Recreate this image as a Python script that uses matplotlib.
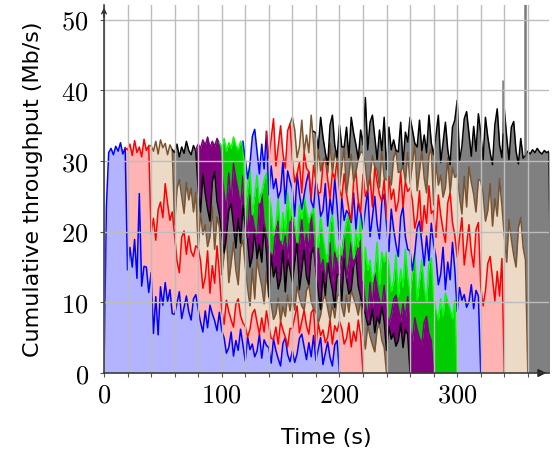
import numpy as np
import matplotlib
matplotlib.use('Agg')
import matplotlib.pyplot as plt
from matplotlib.ticker import FuncFormatter, MultipleLocator

plt.rcParams['mathtext.fontset'] = 'cm'
plt.rcParams['font.family'] = ['DejaVu Sans']

# each flow runs 200 s; values are the stacked (cumulative) throughput in Mb/s,
# sampled every 2 s from start-2 to start+200 (first = join point, last = leave point)
flow_start = [0, 20, 40, 60, 80, 100, 120, 140, 160, 180]

flow1 = [0.0,
         0.0, 23.5, 31.2, 31.8, 30.9, 32.1, 31.4, 32.6, 31.0, 31.9,
         14.6, 17.8, 15.0, 18.9, 13.4, 25.4, 12.3, 15.1, 15.0, 11.4,
         14.2, 5.6, 10.8, 5.4, 12.2, 9.6, 12.8, 10.1, 11.8, 8.4,
         8.3, 9.9, 11.5, 7.7, 9.3, 10.9, 8.7, 7.5, 10.5, 11.1,
         9.0, 7.2, 5.8, 8.8, 6.4, 9.6, 8.4, 7.4, 6.0, 8.6,
         6.0, 5.0, 2.8, 3.6, 5.8, 2.4, 4.6, 3.2, 6.2, 4.0,
         1.7, 5.1, 3.3, 4.1, 2.3, 3.1, 5.5, 2.1, 4.7, 3.9,
         3.6, 1.4, 4.8, 3.2, 2.0, 1.0, 4.2, 5.0, 2.6, 1.6,
         3.1, 1.5, 2.7, 4.9, 5.5, 3.7, 1.9, 4.3, 2.3, 5.3,
         1.8, 3.4, 5.0, 1.2, 2.8, 4.4, 2.2, 1.0, 4.0, 4.6,
         0.0]

flow2 = [31.9,
         31.6, 32.4, 30.8, 32.9, 31.2, 32.0, 30.6, 33.1, 31.5, 32.2,
         19.8, 21.9, 18.8, 23.1, 24.2, 22.0, 26.8, 24.0, 21.6, 22.8,
         19.5, 15.9, 14.2, 19.2, 20.1, 16.8, 19.4, 17.2, 16.5, 18.0,
         17.7, 15.9, 12.0, 13.5, 17.3, 11.3, 15.2, 12.7, 18.0, 14.1,
         9.1, 6.9, 10.3, 8.7, 7.5, 6.5, 9.7, 10.5, 8.1, 7.1,
         6.6, 5.0, 6.2, 8.4, 9.0, 7.2, 5.4, 7.8, 5.8, 8.8,
         6.7, 4.9, 3.5, 6.5, 4.1, 7.3, 6.1, 5.1, 3.7, 6.3,
         6.3, 7.9, 9.5, 5.7, 7.3, 8.9, 6.7, 5.5, 8.5, 9.1,
         3.7, 7.1, 5.3, 6.1, 4.3, 5.1, 7.5, 4.1, 6.7, 5.9,
         7.3, 6.3, 4.1, 4.9, 7.1, 3.7, 5.9, 4.5, 7.5, 5.3,
         0.0]

flow3 = [31.5,
         32.2, 31.4, 32.8, 31.0, 33.0, 31.9, 32.5, 30.9, 32.3, 31.6,
         21.0, 26.1, 27.4, 25.0, 22.6, 27.0, 24.5, 26.2, 22.8, 25.6,
         16.8, 22.8, 19.6, 21.0, 17.9, 19.3, 23.5, 17.5, 22.1, 20.7,
         13.9, 16.7, 19.5, 12.8, 15.6, 18.5, 14.6, 12.5, 17.8, 18.8,
         15.1, 12.0, 9.5, 14.8, 10.5, 16.2, 14.0, 12.3, 9.8, 14.4,
         10.8, 9.8, 7.6, 8.4, 10.6, 7.2, 9.4, 8.0, 11.0, 8.8,
         11.1, 8.9, 12.3, 10.7, 9.5, 8.5, 11.7, 12.5, 10.1, 9.1,
         8.6, 7.0, 8.2, 10.4, 11.0, 9.2, 7.4, 9.8, 7.8, 10.8,
         11.2, 9.4, 8.0, 11.0, 8.6, 11.8, 10.6, 9.6, 8.2, 10.8,
         5.6, 3.4, 6.8, 5.2, 4.0, 3.0, 6.2, 7.0, 4.6, 3.6,
         0.0]

flow4 = [31.6,
         31.2, 32.4, 30.6, 32.0, 31.1, 32.8, 31.5, 30.9, 32.2, 31.4,
         26.0, 22.2, 28.2, 25.4, 23.2, 21.5, 27.1, 28.5, 24.3, 22.5,
         19.8, 17.0, 19.1, 23.0, 24.0, 20.9, 17.7, 21.9, 18.4, 23.7,
         20.7, 18.9, 15.0, 16.5, 20.3, 14.3, 18.2, 15.7, 21.0, 17.1,
         10.8, 16.8, 13.6, 15.0, 11.9, 13.3, 17.5, 11.5, 16.1, 14.7,
         12.9, 15.7, 18.5, 11.8, 14.6, 17.5, 13.6, 11.5, 16.8, 17.8,
         14.6, 11.5, 9.0, 14.3, 10.0, 15.7, 13.5, 11.8, 9.3, 13.9,
         14.0, 10.2, 16.2, 13.4, 11.2, 9.5, 15.1, 16.5, 12.3, 10.5,
         9.3, 8.3, 6.1, 6.9, 9.1, 5.7, 7.9, 6.5, 9.5, 7.3,
         3.2, 6.6, 4.8, 5.6, 3.8, 4.6, 7.0, 3.6, 6.2, 5.4,
         0.0]

flow5 = [31.6,
         32.4, 31.8, 33.0, 32.2, 33.4, 31.9, 32.8, 32.1, 33.2, 32.5,
         28.6, 25.5, 23.0, 28.3, 24.0, 29.7, 27.5, 25.8, 23.3, 27.9,
         23.0, 19.2, 25.2, 22.4, 20.2, 18.5, 24.1, 25.5, 21.3, 19.5,
         17.3, 14.5, 16.6, 20.5, 21.5, 18.4, 15.2, 19.4, 15.9, 21.2,
         22.2, 20.4, 16.5, 18.0, 21.8, 15.8, 19.7, 17.2, 22.5, 18.6,
         11.8, 17.8, 14.6, 16.0, 12.9, 14.3, 18.5, 12.5, 17.1, 15.7,
         13.9, 16.7, 19.5, 12.8, 15.6, 18.5, 14.6, 12.5, 17.8, 18.8,
         13.1, 10.0, 7.5, 12.8, 8.5, 14.2, 12.0, 10.3, 7.8, 12.4,
         8.6, 7.0, 8.2, 10.4, 11.0, 9.2, 7.4, 9.8, 7.8, 10.8,
         6.6, 4.4, 7.8, 6.2, 5.0, 4.0, 7.2, 8.0, 5.6, 4.6,
         0.0]

flow6 = [32.6,
         32.0, 33.2, 31.4, 32.6, 31.8, 33.4, 32.2, 31.6, 32.8, 32.0,
         23.4, 26.2, 29.0, 22.3, 25.1, 28.0, 24.1, 22.0, 27.3, 28.3,
         25.2, 23.4, 19.5, 21.0, 24.8, 18.8, 22.7, 20.2, 25.5, 21.6,
         24.1, 21.0, 18.5, 23.8, 19.5, 25.2, 23.0, 21.3, 18.8, 23.4,
         20.0, 16.2, 22.2, 19.4, 17.2, 15.5, 21.1, 22.5, 18.3, 16.5,
         18.3, 15.5, 17.6, 21.5, 22.5, 19.4, 16.2, 20.4, 16.9, 22.2,
         11.8, 17.8, 14.6, 16.0, 12.9, 14.3, 18.5, 12.5, 17.1, 15.7,
         17.2, 15.4, 11.5, 13.0, 16.8, 10.8, 14.7, 12.2, 17.5, 13.6,
         11.4, 14.2, 17.0, 10.3, 13.1, 16.0, 12.1, 10.0, 15.3, 16.3,
         10.7, 8.9, 7.5, 10.5, 8.1, 11.3, 10.1, 9.1, 7.7, 10.3,
         0.0]

flow7 = [32.8,
         30.3, 27.5, 29.6, 33.5, 34.5, 31.4, 28.2, 32.4, 28.9, 34.2,
         23.3, 29.3, 26.1, 27.5, 24.4, 25.8, 30.0, 24.0, 28.6, 27.2,
         26.0, 22.2, 28.2, 25.4, 23.2, 21.5, 27.1, 28.5, 24.3, 22.5,
         27.2, 25.4, 21.5, 23.0, 26.8, 20.8, 24.7, 22.2, 27.5, 23.6,
         18.8, 24.8, 21.6, 23.0, 19.9, 21.3, 25.5, 19.5, 24.1, 22.7,
         20.4, 23.2, 26.0, 19.3, 22.1, 25.0, 21.1, 19.0, 24.3, 25.3,
         21.0, 17.2, 23.2, 20.4, 18.2, 16.5, 22.1, 23.5, 19.3, 17.5,
         17.3, 14.5, 16.6, 20.5, 21.5, 18.4, 15.2, 19.4, 15.9, 21.2,
         18.2, 16.4, 12.5, 14.0, 17.8, 11.8, 15.7, 13.2, 18.5, 14.6,
         8.7, 12.1, 10.3, 11.1, 9.3, 10.1, 12.5, 9.1, 11.7, 10.9,
         0.0]

flow8 = [30.4,
         30.4, 33.2, 36.0, 29.3, 32.1, 35.0, 31.1, 29.0, 34.3, 35.3,
         30.1, 27.0, 24.5, 29.8, 25.5, 31.2, 29.0, 27.3, 24.8, 29.4,
         26.3, 23.5, 25.6, 29.5, 30.5, 27.4, 24.2, 28.4, 24.9, 30.2,
         26.0, 22.2, 28.2, 25.4, 23.2, 21.5, 27.1, 28.5, 24.3, 22.5,
         28.1, 25.0, 22.5, 27.8, 23.5, 29.2, 27.0, 25.3, 22.8, 27.4,
         21.8, 27.8, 24.6, 26.0, 22.9, 24.3, 28.5, 22.5, 27.1, 25.7,
         26.2, 24.4, 20.5, 22.0, 25.8, 19.8, 23.7, 21.2, 26.5, 22.6,
         23.0, 19.2, 25.2, 22.4, 20.2, 18.5, 24.1, 25.5, 21.3, 19.5,
         16.4, 19.2, 22.0, 15.3, 18.1, 21.0, 17.1, 15.0, 20.3, 21.3,
         12.3, 9.5, 11.6, 15.5, 16.5, 13.4, 10.2, 14.4, 10.9, 16.2,
         0.0]

flow9 = [31.8,
         36.2, 34.4, 30.5, 32.0, 35.8, 29.8, 33.7, 31.2, 36.5, 32.6,
         25.8, 31.8, 28.6, 30.0, 26.9, 28.3, 32.5, 26.5, 31.1, 29.7,
         26.4, 29.2, 32.0, 25.3, 28.1, 31.0, 27.1, 25.0, 30.3, 31.3,
         31.2, 29.4, 25.5, 27.0, 30.8, 24.8, 28.7, 26.2, 31.5, 27.6,
         27.3, 24.5, 26.6, 30.5, 31.5, 28.4, 25.2, 29.4, 25.9, 31.2,
         26.9, 29.7, 32.5, 25.8, 28.6, 31.5, 27.6, 25.5, 30.8, 31.8,
         23.8, 29.8, 26.6, 28.0, 24.9, 26.3, 30.5, 24.5, 29.1, 27.7,
         28.1, 25.0, 22.5, 27.8, 23.5, 29.2, 27.0, 25.3, 22.8, 27.4,
         27.2, 25.4, 21.5, 23.0, 26.8, 20.8, 24.7, 22.2, 27.5, 23.6,
         19.5, 15.7, 21.7, 18.9, 16.7, 15.0, 20.6, 22.0, 17.8, 16.0,
         0.0]

flow10 = [34.2,
          34.0, 30.2, 36.2, 33.4, 31.2, 29.5, 35.1, 36.5, 32.3, 30.5,
          35.1, 32.0, 29.5, 34.8, 30.5, 36.2, 34.0, 32.3, 29.8, 34.4,
          32.3, 39.0, 31.6, 35.5, 36.5, 33.4, 30.2, 34.4, 30.9, 36.2,
          28.8, 34.8, 31.6, 33.0, 29.9, 31.3, 35.5, 29.5, 34.1, 32.7,
          36.2, 34.4, 30.5, 32.0, 35.8, 29.8, 33.7, 31.2, 36.5, 32.6,
          30.9, 33.7, 36.5, 29.8, 32.6, 35.5, 31.6, 29.5, 34.8, 35.8,
          38.6, 30.0, 32.1, 36.0, 37.0, 33.9, 30.7, 34.9, 31.4, 36.7,
          34.0, 30.2, 36.2, 33.4, 31.2, 29.5, 35.1, 37.4, 32.3, 30.5,
          37.4, 33.5, 30.2, 34.8, 35.6, 31.4, 29.6, 33.2, 30.4, 30.8,
          31.4, 31.0, 31.6, 31.2, 31.8, 31.3, 31.0, 31.5, 31.2, 31.4,
          0.0]

# short bursts on the top flow
spike_time = [339, 358]
spike_peak = [41.5, 53.0]

line_colors = ['#0000ff', '#ff0000', '#7a5430', '#000000', '#800080', '#00ff00',
               '#0000ff', '#ff0000', '#7a5430', '#000000']
fill_colors = ['#b3b3ff', '#ffb3b3', '#ecd9c6', '#808080', '#800080', '#00cc00',
               '#b3b3ff', '#ffb3b3', '#ecd9c6', '#808080']

flows = [flow1, flow2, flow3, flow4, flow5, flow6, flow7, flow8, flow9, flow10]
t = np.arange(-2, 381, 2)
cum = np.full((len(flows), len(t)), np.nan)
for i, (s, vals) in enumerate(zip(flow_start, flows)):
    k = s // 2
    cum[i, k:k + len(vals)] = vals

# keep the stack ordered: each layer sits on the one below it
for j in range(len(t)):
    below = 0.0
    for i in range(len(flows)):
        if not np.isnan(cum[i, j]):
            cum[i, j] = max(cum[i, j], below)
            below = cum[i, j]

fig = plt.figure(figsize=(5.52, 4.54), dpi=100)
ax = fig.add_axes([0.1884, 0.1784, 0.8062, 0.8106])

for i in range(len(flows)):
    act = ~np.isnan(cum[i])
    if i > 0:
        lower = np.where(np.isnan(cum[i - 1]), 0.0, cum[i - 1])
    else:
        lower = np.zeros(len(t))
    ax.fill_between(t[act], lower[act], cum[i, act], color=fill_colors[i],
                    lw=0, zorder=1)

for i in range(len(flows)):
    act = ~np.isnan(cum[i])
    ax.plot(t[act], cum[i, act], color=line_colors[i], lw=1.1, zorder=2)

act10 = ~np.isnan(cum[9])
spike_base = np.interp(spike_time, t[act10], cum[9, act10])
ax.vlines(spike_time, spike_base, spike_peak, color='#7a7a7a', lw=1.8, zorder=2.2)

ax.set_xlim(0, 378)
ax.set_ylim(0, 52.1)
ax.xaxis.set_major_locator(MultipleLocator(100))
ax.xaxis.set_minor_locator(MultipleLocator(20))
ax.yaxis.set_major_locator(MultipleLocator(10))
fmt = FuncFormatter(lambda v, p: f'${v:.0f}$')
ax.xaxis.set_major_formatter(fmt)
ax.yaxis.set_major_formatter(fmt)
ax.tick_params(which='both', direction='out', color='#555555', labelsize=19,
               length=3, width=0.8, pad=4)
ax.tick_params(axis='y', pad=8)

ax.set_axisbelow(False)
ax.grid(which='both', axis='x', color='#bdbdbd', lw=1.0)
ax.grid(which='major', axis='y', color='#bdbdbd', lw=1.0)

for side in ['top', 'right']:
    ax.spines[side].set_visible(False)
for side in ['left', 'bottom']:
    ax.spines[side].set_color('#333333')
    ax.spines[side].set_linewidth(1.1)
    ax.spines[side].set_zorder(3)

ax.annotate('', xy=(0, 1.0), xycoords='axes fraction', xytext=(0, 0.96),
            arrowprops=dict(arrowstyle='->', color='#222222', lw=1.0,
                            mutation_scale=8))
ax.annotate('', xy=(1.0, 0), xycoords='axes fraction', xytext=(0.97, 0),
            arrowprops=dict(arrowstyle='-|>', color='#222222', lw=1.0,
                            mutation_scale=12))

ax.set_xlabel('Time (s)', fontsize=16)
ax.set_ylabel('Cumulative throughput (Mb/s)', fontsize=16)
ax.xaxis.set_label_coords(0.5, -0.15)
ax.yaxis.set_label_coords(-0.137, 0.5)

fig.savefig('out.png', dpi=100)
